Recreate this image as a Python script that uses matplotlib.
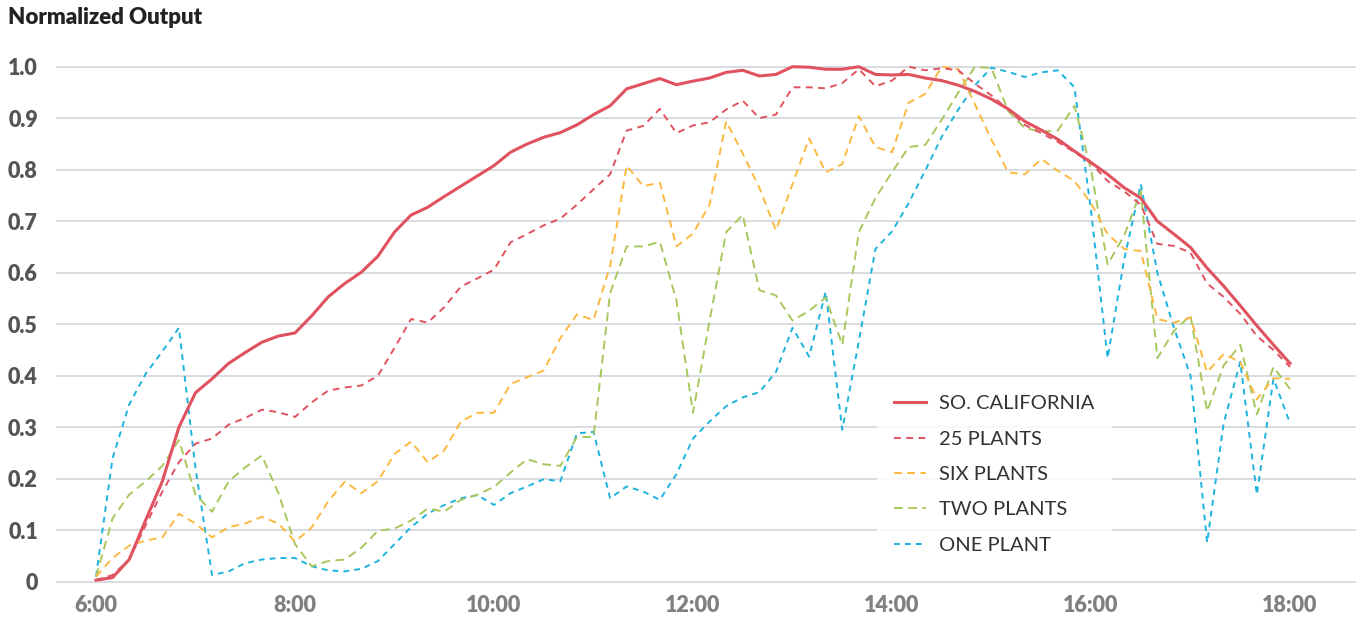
import matplotlib.pyplot as plt
import numpy as np

plt.rcParams['font.family'] = ['Lato', 'DejaVu Sans']

# 10-minute readings from 6:00 to 18:00
minutes = np.arange(0, 721, 10)
hours = 6 + minutes / 60

socal = [0.003, 0.008, 0.043, 0.12, 0.195, 0.30, 0.367, 0.394, 0.424, 0.445, 0.465, 0.477, 0.483,
         0.516, 0.553, 0.579, 0.601, 0.632, 0.679, 0.712, 0.727, 0.748, 0.768, 0.788, 0.808,
         0.834, 0.85, 0.863, 0.872, 0.887, 0.907, 0.924, 0.957, 0.967, 0.977, 0.965, 0.972,
         0.978, 0.989, 0.993, 0.982, 0.985, 1.0, 0.999, 0.995, 0.995, 1.0, 0.985, 0.984,
         0.985, 0.978, 0.973, 0.964, 0.952, 0.937, 0.918, 0.894, 0.877, 0.859, 0.836, 0.814,
         0.791, 0.765, 0.745, 0.70, 0.675, 0.649, 0.609, 0.574, 0.536, 0.497, 0.46, 0.424]

plants25 = [0.003, 0.013, 0.043, 0.11, 0.175, 0.232, 0.268, 0.278, 0.305, 0.318, 0.334, 0.329, 0.32,
            0.348, 0.371, 0.377, 0.381, 0.40, 0.454, 0.51, 0.503, 0.533, 0.573, 0.589, 0.606,
            0.659, 0.675, 0.692, 0.705, 0.732, 0.762, 0.791, 0.876, 0.885, 0.918, 0.871, 0.886,
            0.892, 0.917, 0.934, 0.90, 0.907, 0.96, 0.96, 0.958, 0.968, 0.995, 0.962, 0.973,
            1.0, 0.993, 0.997, 0.993, 0.967, 0.944, 0.917, 0.887, 0.871, 0.854, 0.834, 0.813,
            0.778, 0.758, 0.732, 0.656, 0.652, 0.639, 0.579, 0.553, 0.52, 0.477, 0.45, 0.417]

six = [0.01, 0.046, 0.07, 0.08, 0.086, 0.132, 0.113, 0.086, 0.106, 0.113, 0.126, 0.113, 0.078,
       0.105, 0.156, 0.194, 0.172, 0.195, 0.248, 0.272, 0.232, 0.255, 0.311, 0.328, 0.328,
       0.384, 0.397, 0.41, 0.473, 0.519, 0.508, 0.613, 0.808, 0.768, 0.775, 0.651, 0.676,
       0.732, 0.894, 0.831, 0.765, 0.682, 0.772, 0.861, 0.795, 0.811, 0.904, 0.844, 0.834,
       0.93, 0.947, 1.0, 0.995, 0.927, 0.858, 0.795, 0.791, 0.821, 0.798, 0.778, 0.735,
       0.675, 0.646, 0.642, 0.51, 0.503, 0.513, 0.407, 0.442, 0.427, 0.354, 0.395, 0.394]

two = [0.01, 0.123, 0.169, 0.195, 0.225, 0.275, 0.169, 0.136, 0.195, 0.222, 0.245, 0.172, 0.073,
       0.03, 0.04, 0.043, 0.066, 0.099, 0.103, 0.119, 0.142, 0.136, 0.159, 0.169, 0.184,
       0.212, 0.238, 0.228, 0.225, 0.281, 0.281, 0.56, 0.651, 0.651, 0.66, 0.546, 0.328,
       0.507, 0.679, 0.712, 0.566, 0.556, 0.507, 0.526, 0.552, 0.46, 0.679, 0.745, 0.795,
       0.844, 0.848, 0.897, 0.95, 1.0, 0.997, 0.914, 0.881, 0.874, 0.876, 0.924, 0.80,
       0.616, 0.672, 0.758, 0.434, 0.487, 0.517, 0.331, 0.42, 0.46, 0.325, 0.417, 0.374]

one = [0.01, 0.24, 0.344, 0.404, 0.447, 0.493, 0.22, 0.013, 0.02, 0.036, 0.043, 0.046, 0.046,
       0.03, 0.022, 0.02, 0.025, 0.04, 0.073, 0.106, 0.132, 0.149, 0.162, 0.168, 0.149,
       0.172, 0.185, 0.199, 0.195, 0.288, 0.291, 0.162, 0.185, 0.175, 0.159, 0.209, 0.278,
       0.311, 0.341, 0.358, 0.368, 0.407, 0.493, 0.437, 0.563, 0.295, 0.467, 0.646, 0.68,
       0.735, 0.798, 0.864, 0.917, 0.964, 0.998, 0.99, 0.98, 0.989, 0.993, 0.96, 0.72,
       0.434, 0.626, 0.772, 0.60, 0.493, 0.40, 0.076, 0.308, 0.427, 0.169, 0.394, 0.308]

tick_hours = [6, 8, 10, 12, 14, 16, 18]
tick_labels = ["6:00", "8:00", "10:00", "12:00", "14:00", "16:00", "18:00"]
y_ticks = [0, 0.1, 0.2, 0.3, 0.4, 0.5, 0.6, 0.7, 0.8, 0.9, 1.0]
y_labels = ["0", "0.1", "0.2", "0.3", "0.4", "0.5", "0.6", "0.7", "0.8", "0.9", "1.0"]

red = "#e0525f"
orange = "#fbb940"
green = "#a8c85e"
blue = "#1db3df"

fig = plt.figure(figsize=(13.56, 6.18), dpi=100)
ax = fig.add_axes([56 / 1356, 26 / 618, 1300 / 1356, 535.6 / 618])

l_one, = ax.plot(hours, one, color=blue, lw=1.4, dashes=(3, 2.6), label="ONE PLANT")
l_two, = ax.plot(hours, two, color=green, lw=1.4, dashes=(4.5, 2.8), label="TWO PLANTS")
l_six, = ax.plot(hours, six, color=orange, lw=1.4, dashes=(4, 2.8), label="SIX PLANTS")
l_25, = ax.plot(hours, plants25, color=red, lw=1.4, dashes=(3.5, 2.8), label="25 PLANTS")
l_so, = ax.plot(hours, socal, color=red, lw=2.2, label="SO. CALIFORNIA")

ax.set_xlim(5.598, 18.663)
ax.set_ylim(-0.02, 1.02)
ax.set_xticks(tick_hours)
ax.set_xticklabels(tick_labels, fontsize=15.5, fontweight="heavy", color="#808080")
ax.set_yticks(y_ticks)
ax.set_yticklabels(y_labels, fontsize=15.5, fontweight="heavy", color="#555555")
ax.tick_params(axis="y", length=0, pad=13)
ax.tick_params(axis="x", length=0, pad=2)
ax.grid(axis="y", color="#d6d9dd", lw=1.3)
ax.set_axisbelow(True)
for s in ax.spines.values():
    s.set_visible(False)

leg = ax.legend(handles=[l_so, l_25, l_six, l_two, l_one],
                loc="upper left", bbox_to_anchor=(877 / 1356, 240 / 618),
                bbox_transform=fig.transFigure, frameon=True, fancybox=False,
                framealpha=0.85, edgecolor="none", facecolor="white",
                prop={"family": "Lato", "size": 14.5}, labelcolor="#333333",
                handlelength=1.6, handletextpad=0.65, labelspacing=0.91,
                borderpad=0.85, borderaxespad=0)

fig.text(8 / 1356, 1 - 17 / 618, "Normalized Output", fontsize=16, fontweight="heavy",
         color="#222222", va="center", ha="left")

plt.savefig("out.png", dpi=100)
